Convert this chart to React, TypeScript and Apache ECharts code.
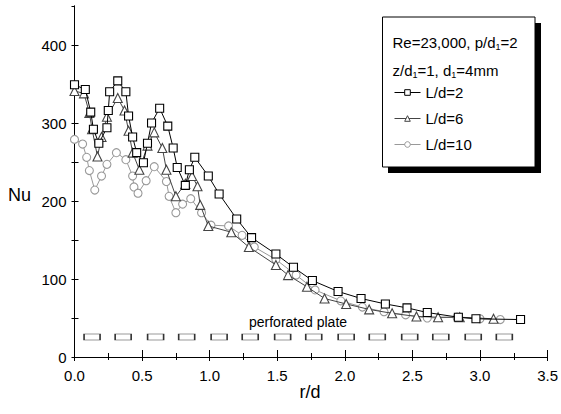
import React, { useEffect, useRef } from "react";
import * as echarts from "echarts";

const FONT = "'Liberation Sans', Arial, Helvetica, sans-serif";

// L/d = 2 (squares)
const rLd2 = [0.0, 0.08, 0.12, 0.14, 0.18, 0.24, 0.25, 0.26, 0.32, 0.38, 0.4, 0.43, 0.46, 0.51, 0.54, 0.57, 0.63, 0.69, 0.73, 0.76, 0.82, 0.85, 0.89, 0.99, 1.07, 1.2, 1.31, 1.49, 1.62, 1.76, 1.95, 2.12, 2.3, 2.46, 2.61, 2.84, 2.97, 3.3];
const nuLd2 = [349, 343, 314, 292, 274, 294, 316, 340, 354, 340, 309, 282, 262, 249, 274, 300, 319, 296, 268, 243, 220, 240, 256, 232, 209, 177, 153, 132, 115, 98, 84, 75, 68, 63, 57, 51, 49, 48];

// L/d = 6 (triangles)
const rLd6 = [0.0, 0.07, 0.11, 0.13, 0.17, 0.2, 0.24, 0.32, 0.37, 0.4, 0.43, 0.48, 0.54, 0.59, 0.65, 0.68, 0.75, 0.82, 0.87, 0.91, 0.93, 0.99, 1.16, 1.29, 1.49, 1.58, 1.72, 1.85, 2.01, 2.18, 2.35, 2.53, 2.69, 2.85, 3.1];
const nuLd6 = [341, 338, 313, 292, 257, 282, 308, 332, 316, 290, 262, 240, 271, 288, 268, 240, 206, 222, 232, 219, 195, 168, 160, 141, 118, 105, 90, 75, 68, 61, 56, 52, 51, 51, 49];

// L/d = 10 (circles)
const rLd10 = [0.0, 0.06, 0.09, 0.11, 0.15, 0.2, 0.24, 0.31, 0.38, 0.43, 0.44, 0.47, 0.53, 0.59, 0.68, 0.7, 0.75, 0.8, 0.86, 0.94, 1.01, 1.14, 1.24, 1.33, 1.49, 1.64, 1.78, 1.97, 2.13, 2.29, 2.45, 2.61, 2.83, 3.0, 3.15];
const nuLd10 = [279, 273, 256, 239, 214, 232, 247, 262, 253, 232, 218, 210, 226, 244, 225, 206, 185, 196, 203, 185, 169, 168, 156, 141, 125, 105, 86, 72, 64, 58, 54, 50, 51, 49, 48];

// perforated plate holes (centres along r/d) and their level on the Nu axis
const plateR = [0.13, 0.36, 0.6, 0.83, 1.07, 1.3, 1.54, 1.77, 2.01, 2.24, 2.48, 2.71, 2.95, 3.18];
const plateNu = 25.6;

const seriesNames = ["L/d=2", "L/d=6", "L/d=10"];
const xTicks = { min: 0, max: 3.5, interval: 0.5 };
const yTicks = { min: 0, max: 450, interval: 50 };

function pairs(xs: number[], ys: number[]) {
  return xs.map((x, i) => [x, ys[i]]);
}

export default function App() {
  const ref = useRef<HTMLDivElement>(null);
  useEffect(() => {
    if (!ref.current) return;
    const chart = echarts.init(ref.current, null, { renderer: "svg" });
    const baseAxisLine = { show: true, lineStyle: { color: "#000", width: 1 } };
    const sub = {
      a: { fontSize: 15, lineHeight: 18, fontFamily: FONT, fill: "#000" },
      s: { fontSize: 9, lineHeight: 9, verticalAlign: "bottom", fontFamily: FONT, fill: "#000" },
    };
    const option: any = {
      animation: false,
      backgroundColor: "#fff",
      textStyle: { fontFamily: FONT },
      grid: { left: 74.5, right: 11.5, top: 6, bottom: 57, containLabel: false },
      xAxis: [
        {
          type: "value",
          min: xTicks.min,
          max: xTicks.max,
          interval: xTicks.interval,
          position: "bottom",
          axisLine: baseAxisLine,
          axisTick: { show: true, inside: true, length: 7, lineStyle: { color: "#000" } },
          minorTick: { show: true, splitNumber: 2, length: 4, lineStyle: { color: "#000" } },
          splitLine: { show: false },
          axisLabel: {
            color: "#000",
            fontSize: 15,
            fontFamily: FONT,
            margin: 11,
            formatter: (v: number) => v.toFixed(1),
          },
        },
        {
          type: "value",
          min: xTicks.min,
          max: xTicks.max,
          interval: xTicks.interval,
          position: "top",
          axisLine: baseAxisLine,
          axisTick: { show: true, inside: true, length: 4, lineStyle: { color: "#000" } },
          minorTick: { show: true, splitNumber: 2, length: 3, lineStyle: { color: "#000" } },
          splitLine: { show: false },
          axisLabel: { show: false },
        },
      ],
      yAxis: [
        {
          type: "value",
          min: yTicks.min,
          max: yTicks.max,
          interval: yTicks.interval,
          position: "left",
          axisLine: baseAxisLine,
          axisTick: { show: true, inside: true, length: 4, lineStyle: { color: "#000" } },
          splitLine: { show: false },
          axisLabel: {
            color: "#000",
            fontSize: 15,
            fontFamily: FONT,
            margin: 8,
            showMaxLabel: false,
            formatter: (v: number) => (v % 100 === 0 ? String(v) : ""),
          },
        },
        {
          type: "value",
          min: yTicks.min,
          max: yTicks.max,
          interval: yTicks.interval,
          position: "right",
          axisLine: baseAxisLine,
          axisTick: { show: true, inside: true, length: 3, lineStyle: { color: "#000" } },
          splitLine: { show: false },
          axisLabel: { show: false },
        },
      ],
      legend: {
        data: seriesNames,
        orient: "vertical",
        left: 394,
        top: 84,
        itemWidth: 26,
        itemHeight: 7,
        itemGap: 9,
        padding: 0,
        z: 20,
        lineStyle: { width: 1 },
        itemStyle: { borderWidth: 1 },
        textStyle: { fontSize: 15, color: "#000", fontFamily: FONT, lineHeight: 17 },
      },
      graphic: [
        { type: "rect", z: 10, shape: { x: 388, y: 23, width: 153, height: 150 }, style: { fill: "#000" } },
        { type: "rect", z: 11, shape: { x: 382.5, y: 17, width: 152.5, height: 150 }, style: { fill: "#fff", stroke: "#000", lineWidth: 1 } },
        {
          type: "text",
          z: 12,
          x: 392.5,
          y: 42,
          style: { text: "{a|Re=23,000, p/d}{s|1}{a|=2}", verticalAlign: "middle", rich: sub },
        },
        {
          type: "text",
          z: 12,
          x: 392.5,
          y: 70,
          style: { text: "{a|z/d}{s|1}{a|=1, d}{s|1}{a|=4mm}", verticalAlign: "middle", rich: sub },
        },
        {
          type: "text",
          x: 249,
          y: 322,
          style: { text: "perforated plate", fontSize: 14, fontFamily: FONT, fill: "#000", verticalAlign: "middle" },
        },
        {
          type: "text",
          x: 8,
          y: 195,
          style: { text: "Nu", fontSize: 18, fontFamily: FONT, fill: "#000", verticalAlign: "middle" },
        },
        {
          type: "text",
          x: 310,
          y: 392,
          style: { text: "r/d", fontSize: 18, fontFamily: FONT, fill: "#000", align: "center", verticalAlign: "middle" },
        },
      ],
      series: [
        {
          name: seriesNames[0],
          type: "line",
          data: pairs(rLd2, nuLd2),
          symbol: "rect",
          symbolSize: 8,
          showAllSymbol: true,
          lineStyle: { color: "#000", width: 1 },
          itemStyle: { color: "#fff", borderColor: "#000", borderWidth: 1.1 },
          z: 5,
        },
        {
          name: seriesNames[1],
          type: "line",
          data: pairs(rLd6, nuLd6),
          symbol: "triangle",
          symbolSize: 9,
          showAllSymbol: true,
          lineStyle: { color: "#444", width: 1 },
          itemStyle: { color: "#fff", borderColor: "#444", borderWidth: 1.1 },
          z: 4,
        },
        {
          name: seriesNames[2],
          type: "line",
          data: pairs(rLd10, nuLd10),
          symbol: "circle",
          symbolSize: 8,
          showAllSymbol: true,
          lineStyle: { color: "#999", width: 1 },
          itemStyle: { color: "#fff", borderColor: "#999", borderWidth: 1.1 },
          z: 3,
        },
        {
          name: "perforated plate",
          type: "scatter",
          data: plateR.map((r) => [r, plateNu]),
          symbol: "rect",
          symbolSize: [16, 6],
          itemStyle: { color: "#fff", borderColor: "#000", borderWidth: 1 },
          z: 2,
        },
      ],
    };
    chart.setOption(option);
    return () => chart.dispose();
  }, []);
  return (
    <div
      ref={ref}
      style={{ position: "fixed", left: 0, top: 0, width: 561, height: 414, background: "#fff" }}
    />
  );
}
